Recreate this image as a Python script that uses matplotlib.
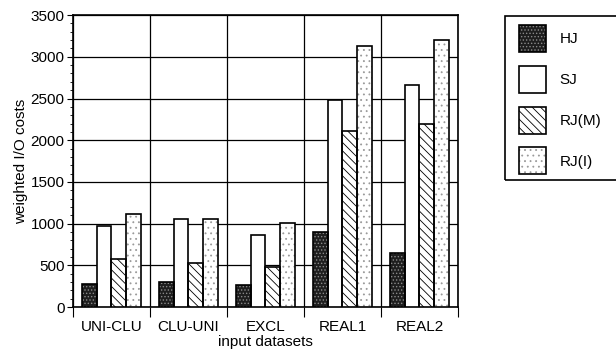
import numpy as np
import matplotlib
matplotlib.use('Agg')
import matplotlib.pyplot as plt
from matplotlib.patches import Patch, Rectangle
from matplotlib.legend_handler import HandlerTuple

plt.rcParams['font.family'] = ['Liberation Sans', 'DejaVu Sans']
plt.rcParams['hatch.linewidth'] = 0.6

# data
datasets = ['UNI-CLU', 'CLU-UNI', 'EXCL', 'REAL1', 'REAL2']
series = ['HJ', 'SJ', 'RJ(M)', 'RJ(I)']
hj = [280, 300, 260, 900, 650]
sj = [975, 1050, 860, 2480, 2660]
rj_m = [575, 530, 480, 2110, 2190]
rj_i = [1110, 1055, 1010, 3130, 3200]
yticks = [0, 500, 1000, 1500, 2000, 2500, 3000, 3500]

# fill colour, hatch, hatch colour
fills = [('#1e1e1e', '.....', '#8a8a8a'),
         ('white', None, 'black'),
         ('white', '\\\\\\\\', 'black'),
         ('white', '...', '#9a9a9a')]

fs = 11

fig = plt.figure(figsize=(6.16, 3.56), dpi=100)
ax1 = fig.add_axes([0.1185, 0.1376, 0.625, 0.820])

x = np.arange(len(datasets))
bar_w = 0.19
for i, vals in enumerate([hj, sj, rj_m, rj_i]):
    offs = (i - 1.5) * bar_w
    fc, hatch, hc = fills[i]
    ax1.bar(x + offs, vals, width=bar_w, facecolor=fc, hatch=hatch,
            edgecolor=hc, linewidth=0, zorder=3)
    ax1.bar(x + offs, vals, width=bar_w, fill=False, edgecolor='black',
            linewidth=1.2, zorder=4)

ax1.set_xlim(-0.5, len(datasets) - 0.5)
ax1.set_ylim(0, 3500)
ax1.set_yticks(yticks)
ax1.set_yticks(np.arange(0, 3501, 100), minor=True)
ax1.set_xticks(x)
ax1.set_xticklabels(datasets)
ax1.set_xticks(np.arange(-0.5, len(datasets)), minor=True)

ax1.tick_params(axis='x', which='major', length=0, labelsize=fs, pad=9)
ax1.tick_params(axis='x', which='minor', length=7, width=0.8, direction='out')
ax1.tick_params(axis='y', which='major', length=4, width=0.8, labelsize=fs, pad=2)
ax1.tick_params(axis='y', which='minor', length=2, width=0.6)

ax1.grid(axis='y', which='major', color='black', linewidth=0.9, zorder=0)
ax1.grid(axis='x', which='minor', color='black', linewidth=0.9, zorder=0)
for s in ax1.spines.values():
    s.set_linewidth(1.2)

ax1.set_xlabel('input datasets', fontsize=fs, labelpad=1)
ax1.set_ylabel('weighted I/O costs', fontsize=fs, labelpad=2)

# legend, frame drawn separately so it runs off the right edge like the original
handles = []
for i in range(4):
    fc, hatch, hc = fills[i]
    handles.append((Patch(facecolor=fc, hatch=hatch, edgecolor=hc, linewidth=0),
                    Patch(fill=False, edgecolor='black', linewidth=1.2)))
leg = fig.legend(handles=handles, labels=series, loc='upper left',
                 bbox_to_anchor=(0.843, 0.93), fontsize=fs, frameon=False,
                 handlelength=1.77, handleheight=2.35, labelspacing=0.9,
                 borderpad=0, handletextpad=0.85, borderaxespad=0,
                 handler_map={tuple: HandlerTuple(ndivide=1, pad=0)})
fig.patches.append(Rectangle((505 / 616, 1 - 180 / 356), 0.2, 164 / 356,
                             transform=fig.transFigure, fill=False,
                             edgecolor='black', linewidth=1.2))

plt.savefig('out.png', dpi=100)
plt.close()
